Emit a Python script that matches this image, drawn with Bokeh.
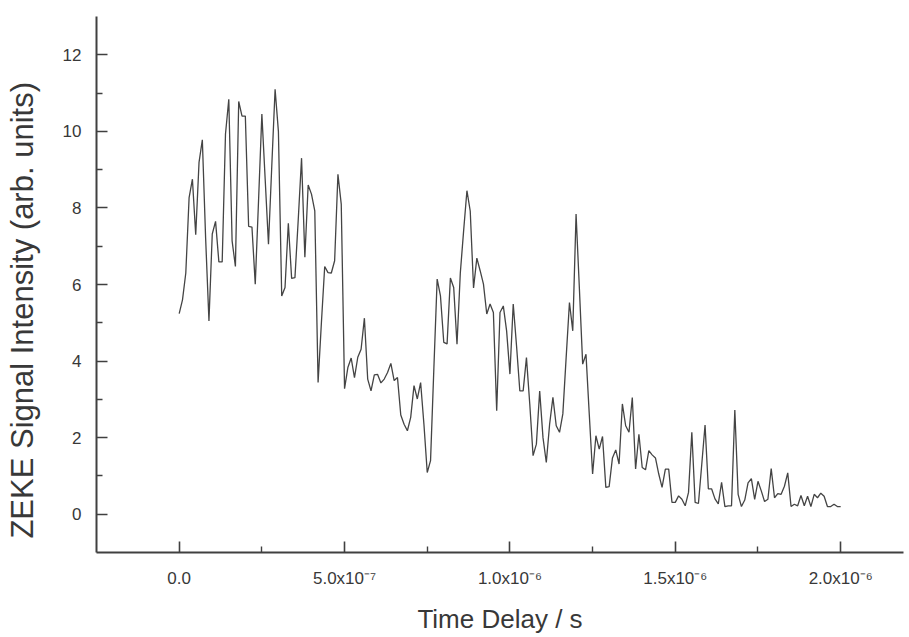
from bokeh.plotting import figure
from bokeh.models import FixedTicker, Range1d, ColumnDataSource
from bokeh.embed import file_html
from bokeh.resources import INLINE

signal = [
    5.24, 5.60, 6.30, 8.27, 8.75, 7.30, 9.19, 9.78, 7.20, 5.05,
    7.32, 7.65, 6.59, 6.59, 9.93, 10.84, 7.14, 6.47, 10.78, 10.40,
    10.40, 7.52, 7.50, 6.01, 8.20, 10.45, 8.75, 7.05, 9.10, 11.10,
    10.00, 5.70, 5.92, 7.60, 6.16, 6.18, 7.70, 9.30, 6.71, 8.60,
    8.36, 7.92, 3.44, 5.00, 6.47, 6.31, 6.30, 6.62, 8.88, 8.10,
    3.28, 3.83, 4.08, 3.57, 4.10, 4.31, 5.12, 3.53, 3.22, 3.64,
    3.65, 3.43, 3.53, 3.70, 3.94, 3.49, 3.57, 2.59, 2.35, 2.18,
    2.53, 3.36, 3.01, 3.44, 2.35, 1.09, 1.40, 3.80, 6.14, 5.70,
    4.49, 4.45, 6.17, 5.92, 4.44, 6.30, 7.40, 8.45, 7.92, 5.91,
    6.69, 6.36, 6.01, 5.23, 5.49, 5.27, 2.70, 5.27, 5.44, 4.79,
    3.66, 5.49, 4.40, 3.22, 3.22, 4.09, 2.88, 1.53, 1.83, 3.22,
    2.00, 1.35, 2.35, 3.05, 2.31, 2.14, 2.62, 4.09, 5.53, 4.79,
    7.84, 5.90, 3.92, 4.18, 2.60, 1.05, 2.05, 1.70, 2.03, 0.70,
    0.72, 1.47, 1.68, 1.31, 2.88, 2.31, 2.14, 3.05, 1.18, 2.09,
    1.22, 1.16, 1.66, 1.55, 1.47, 1.05, 0.70, 1.18, 1.18, 0.31,
    0.31, 0.48, 0.39, 0.22, 0.57, 2.14, 0.31, 0.28, 1.30, 2.33,
    0.66, 0.66, 0.40, 0.27, 0.83, 0.20, 0.22, 0.22, 2.72, 0.52,
    0.20, 0.37, 0.82, 0.93, 0.39, 0.86, 0.61, 0.33, 0.39, 1.19,
    0.43, 0.54, 0.52, 0.73, 1.08, 0.20, 0.26, 0.22, 0.49, 0.22,
    0.47, 0.20, 0.52, 0.43, 0.55, 0.47, 0.20, 0.20, 0.26, 0.20,
    0.20,
]
step_s = 1e-8
time_s = [i * step_s for i in range(len(signal))]

x_ticks = [0.0, 5e-7, 1e-6, 1.5e-6, 2e-6]
x_minor = [2.5e-7, 7.5e-7, 1.25e-6, 1.75e-6]
x_tick_labels = ["0.0", "5.0x10\u207b\u2077", "1.0x10\u207b\u2076",
                 "1.5x10\u207b\u2076", "2.0x10\u207b\u2076"]
y_ticks = [0, 2, 4, 6, 8, 10, 12]
y_minor = [1, 3, 5, 7, 9, 11]

src = ColumnDataSource(data=dict(t=time_s, s=signal))

ink = "#404040"
txt = "#383838"
font = "Liberation Sans"

p = figure(width=906, height=636, output_backend="svg", toolbar_location=None,
           x_range=Range1d(-2.5e-7, 2.19e-6), y_range=Range1d(-1, 13),
           min_border_left=96, min_border_top=16, min_border_right=3,
           min_border_bottom=84)
p.outline_line_color = None
p.grid.visible = False
p.background_fill_color = "white"
p.border_fill_color = "white"

p.line("t", "s", source=src, line_color="#444444", line_width=1.3)

xa = p.xaxis[0]
xa.ticker = FixedTicker(ticks=x_ticks, minor_ticks=x_minor)
xa.major_label_overrides = dict(zip(x_ticks, x_tick_labels))
xa.axis_label = "Time Delay / s"

ya = p.yaxis[0]
ya.ticker = FixedTicker(ticks=y_ticks, minor_ticks=y_minor)
ya.axis_label = "ZEKE Signal Intensity (arb. units)" + "\u00a0" * 6

for ax in (xa, ya):
    ax.axis_line_color = ink
    ax.axis_line_width = 2
    ax.major_tick_line_color = ink
    ax.minor_tick_line_color = ink
    ax.major_tick_line_width = 1.6
    ax.minor_tick_line_width = 1.4
    ax.major_tick_in = 11
    ax.major_tick_out = 0
    ax.minor_tick_in = 6
    ax.minor_tick_out = 0
    ax.major_label_text_font = font
    ax.major_label_text_font_size = "17px"
    ax.major_label_text_color = txt
    ax.axis_label_text_font = font
    ax.axis_label_text_font_style = "normal"
    ax.axis_label_text_color = txt

xa.major_label_standoff = 16
xa.axis_label_text_font_size = "26px"
xa.axis_label_standoff = 13
ya.major_label_standoff = 15
ya.axis_label_text_font_size = "31px"
ya.axis_label_standoff = 20

open("out.html", "w").write(file_html(p, INLINE))
